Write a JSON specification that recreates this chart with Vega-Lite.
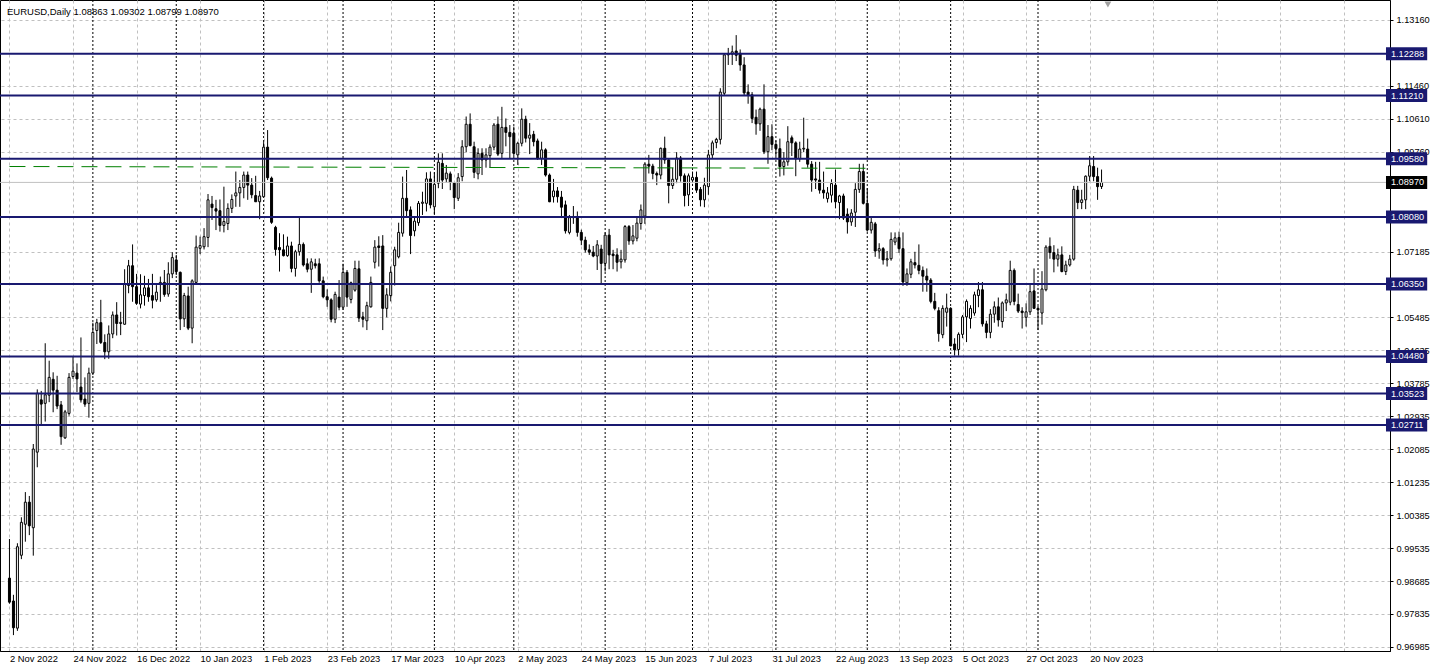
{
 "$schema": "https://vega.github.io/schema/vega-lite/v6.json",
 "width": 1390, "height": 651,
 "autosize": {"type": "none"},
 "padding": {"left": 0, "top": 0, "right": 48, "bottom": 20},
 "background": "white",
 "config": {"view": {"stroke": "black", "strokeWidth": 1}, "font": "Liberation Sans"},
 "title": {"text": "EURUSD,Daily  1.08863 1.09302 1.08799 1.08970", "anchor": "start", "frame": "group", "orient": "top", "offset": -17, "dx": 7, "fontSize": 9.5, "fontWeight": "normal", "font": "Liberation Sans", "color": "black", "baseline": "top"},
 "datasets": {
  "candles": [
{"d":"2022-11-02","o":0.9876,"h":0.9977,"l":0.9810,"c":0.9814},
{"d":"2022-11-03","o":0.9817,"h":0.9833,"l":0.9729,"c":0.9748},
{"d":"2022-11-04","o":0.9747,"h":0.9966,"l":0.9740,"c":0.9957},
{"d":"2022-11-07","o":0.9935,"h":1.0033,"l":0.9925,"c":1.0020},
{"d":"2022-11-08","o":1.0015,"h":1.0098,"l":0.9970,"c":1.0072},
{"d":"2022-11-09","o":1.0072,"h":1.0088,"l":0.9987,"c":1.0011},
{"d":"2022-11-10","o":1.0006,"h":1.0222,"l":0.9934,"c":1.0209},
{"d":"2022-11-11","o":1.0201,"h":1.0363,"l":1.0162,"c":1.0353},
{"d":"2022-11-14","o":1.0336,"h":1.0359,"l":1.0269,"c":1.0325},
{"d":"2022-11-15","o":1.0327,"h":1.0482,"l":1.0280,"c":1.0349},
{"d":"2022-11-16","o":1.0348,"h":1.0437,"l":1.0330,"c":1.0394},
{"d":"2022-11-17","o":1.0389,"h":1.0407,"l":1.0304,"c":1.0361},
{"d":"2022-11-18","o":1.0361,"h":1.0398,"l":1.0312,"c":1.0320},
{"d":"2022-11-21","o":1.0323,"h":1.0333,"l":1.0220,"c":1.0241},
{"d":"2022-11-22","o":1.0238,"h":1.0310,"l":1.0235,"c":1.0305},
{"d":"2022-11-23","o":1.0301,"h":1.0405,"l":1.0295,"c":1.0394},
{"d":"2022-11-24","o":1.0396,"h":1.0449,"l":1.0390,"c":1.0410},
{"d":"2022-11-25","o":1.0405,"h":1.0430,"l":1.0356,"c":1.0390},
{"d":"2022-11-28","o":1.0369,"h":1.0497,"l":1.0329,"c":1.0336},
{"d":"2022-11-29","o":1.0338,"h":1.0394,"l":1.0318,"c":1.0325},
{"d":"2022-11-30","o":1.0327,"h":1.0419,"l":1.0290,"c":1.0405},
{"d":"2022-12-01","o":1.0405,"h":1.0535,"l":1.0400,"c":1.0510},
{"d":"2022-12-02","o":1.0515,"h":1.0545,"l":1.0480,"c":1.0535},
{"d":"2022-12-05","o":1.0535,"h":1.0594,"l":1.0480,"c":1.0484},
{"d":"2022-12-06","o":1.0484,"h":1.0505,"l":1.0441,"c":1.0460},
{"d":"2022-12-07","o":1.0460,"h":1.0528,"l":1.0442,"c":1.0506},
{"d":"2022-12-08","o":1.0506,"h":1.0564,"l":1.0495,"c":1.0555},
{"d":"2022-12-09","o":1.0555,"h":1.0588,"l":1.0502,"c":1.0533},
{"d":"2022-12-12","o":1.0533,"h":1.0563,"l":1.0503,"c":1.0536},
{"d":"2022-12-13","o":1.0531,"h":1.0673,"l":1.0530,"c":1.0634},
{"d":"2022-12-14","o":1.0631,"h":1.0697,"l":1.0611,"c":1.0682},
{"d":"2022-12-15","o":1.0682,"h":1.0737,"l":1.0589,"c":1.0628},
{"d":"2022-12-16","o":1.0628,"h":1.0661,"l":1.0581,"c":1.0585},
{"d":"2022-12-19","o":1.0583,"h":1.0660,"l":1.0572,"c":1.0607},
{"d":"2022-12-20","o":1.0605,"h":1.0656,"l":1.0579,"c":1.0625},
{"d":"2022-12-21","o":1.0625,"h":1.0648,"l":1.0589,"c":1.0602},
{"d":"2022-12-22","o":1.0605,"h":1.0661,"l":1.0572,"c":1.0593},
{"d":"2022-12-23","o":1.0594,"h":1.0632,"l":1.0589,"c":1.0614},
{"d":"2022-12-27","o":1.0634,"h":1.0654,"l":1.0589,"c":1.0639},
{"d":"2022-12-28","o":1.0639,"h":1.0671,"l":1.0602,"c":1.0608},
{"d":"2022-12-29","o":1.0609,"h":1.0691,"l":1.0602,"c":1.0661},
{"d":"2022-12-30","o":1.0661,"h":1.0717,"l":1.0650,"c":1.0703},
{"d":"2023-01-02","o":1.0697,"h":1.0710,"l":1.0658,"c":1.0667},
{"d":"2023-01-03","o":1.0665,"h":1.0667,"l":1.0516,"c":1.0545},
{"d":"2023-01-04","o":1.0545,"h":1.0612,"l":1.0524,"c":1.0605},
{"d":"2023-01-05","o":1.0604,"h":1.0628,"l":1.0516,"c":1.0521},
{"d":"2023-01-06","o":1.0521,"h":1.0647,"l":1.0482,"c":1.0643},
{"d":"2023-01-09","o":1.0639,"h":1.0760,"l":1.0637,"c":1.0730},
{"d":"2023-01-10","o":1.0727,"h":1.0757,"l":1.0712,"c":1.0734},
{"d":"2023-01-11","o":1.0731,"h":1.0779,"l":1.0724,"c":1.0757},
{"d":"2023-01-12","o":1.0755,"h":1.0867,"l":1.0730,"c":1.0852},
{"d":"2023-01-13","o":1.0841,"h":1.0862,"l":1.0800,"c":1.0832},
{"d":"2023-01-16","o":1.0829,"h":1.0852,"l":1.0774,"c":1.0823},
{"d":"2023-01-17","o":1.0824,"h":1.0853,"l":1.0770,"c":1.0786},
{"d":"2023-01-18","o":1.0786,"h":1.0886,"l":1.0768,"c":1.0796},
{"d":"2023-01-19","o":1.0791,"h":1.0843,"l":1.0774,"c":1.0830},
{"d":"2023-01-20","o":1.0830,"h":1.0866,"l":1.0818,"c":1.0853},
{"d":"2023-01-23","o":1.0862,"h":1.0925,"l":1.0834,"c":1.0870},
{"d":"2023-01-24","o":1.0870,"h":1.0903,"l":1.0834,"c":1.0884},
{"d":"2023-01-25","o":1.0884,"h":1.0925,"l":1.0856,"c":1.0916},
{"d":"2023-01-26","o":1.0916,"h":1.0925,"l":1.0852,"c":1.0890},
{"d":"2023-01-27","o":1.0890,"h":1.0908,"l":1.0856,"c":1.0865},
{"d":"2023-01-30","o":1.0863,"h":1.0914,"l":1.0847,"c":1.0847},
{"d":"2023-01-31","o":1.0847,"h":1.0875,"l":1.0802,"c":1.0862},
{"d":"2023-02-01","o":1.0860,"h":1.1001,"l":1.0859,"c":1.0988},
{"d":"2023-02-02","o":1.0988,"h":1.1032,"l":1.0903,"c":1.0909},
{"d":"2023-02-03","o":1.0908,"h":1.0912,"l":1.0790,"c":1.0794},
{"d":"2023-02-06","o":1.0781,"h":1.0785,"l":1.0708,"c":1.0724},
{"d":"2023-02-07","o":1.0729,"h":1.0766,"l":1.0667,"c":1.0723},
{"d":"2023-02-08","o":1.0723,"h":1.0763,"l":1.0706,"c":1.0708},
{"d":"2023-02-09","o":1.0708,"h":1.0757,"l":1.0705,"c":1.0733},
{"d":"2023-02-10","o":1.0733,"h":1.0744,"l":1.0665,"c":1.0675},
{"d":"2023-02-13","o":1.0675,"h":1.0723,"l":1.0654,"c":1.0718},
{"d":"2023-02-14","o":1.0718,"h":1.0807,"l":1.0708,"c":1.0737},
{"d":"2023-02-15","o":1.0737,"h":1.0742,"l":1.0680,"c":1.0684},
{"d":"2023-02-16","o":1.0687,"h":1.0701,"l":1.0665,"c":1.0673},
{"d":"2023-02-17","o":1.0673,"h":1.0701,"l":1.0612,"c":1.0692},
{"d":"2023-02-20","o":1.0687,"h":1.0700,"l":1.0675,"c":1.0682},
{"d":"2023-02-21","o":1.0687,"h":1.0701,"l":1.0638,"c":1.0643},
{"d":"2023-02-22","o":1.0643,"h":1.0654,"l":1.0598,"c":1.0602},
{"d":"2023-02-23","o":1.0602,"h":1.0621,"l":1.0576,"c":1.0594},
{"d":"2023-02-24","o":1.0594,"h":1.0598,"l":1.0536,"c":1.0544},
{"d":"2023-02-27","o":1.0544,"h":1.0615,"l":1.0534,"c":1.0608},
{"d":"2023-02-28","o":1.0601,"h":1.0645,"l":1.0567,"c":1.0575},
{"d":"2023-03-01","o":1.0575,"h":1.0687,"l":1.0568,"c":1.0665},
{"d":"2023-03-02","o":1.0665,"h":1.0671,"l":1.0576,"c":1.0601},
{"d":"2023-03-03","o":1.0595,"h":1.0641,"l":1.0585,"c":1.0638},
{"d":"2023-03-06","o":1.0619,"h":1.0695,"l":1.0615,"c":1.0675},
{"d":"2023-03-07","o":1.0674,"h":1.0695,"l":1.0537,"c":1.0547},
{"d":"2023-03-08","o":1.0550,"h":1.0563,"l":1.0523,"c":1.0544},
{"d":"2023-03-09","o":1.0540,"h":1.0589,"l":1.0516,"c":1.0579},
{"d":"2023-03-10","o":1.0576,"h":1.0654,"l":1.0574,"c":1.0639},
{"d":"2023-03-13","o":1.0691,"h":1.0748,"l":1.0675,"c":1.0730},
{"d":"2023-03-14","o":1.0733,"h":1.0758,"l":1.0680,"c":1.0729},
{"d":"2023-03-15","o":1.0733,"h":1.0761,"l":1.0516,"c":1.0572},
{"d":"2023-03-16","o":1.0572,"h":1.0624,"l":1.0549,"c":1.0607},
{"d":"2023-03-17","o":1.0605,"h":1.0680,"l":1.0590,"c":1.0665},
{"d":"2023-03-20","o":1.0682,"h":1.0731,"l":1.0631,"c":1.0723},
{"d":"2023-03-21","o":1.0705,"h":1.0793,"l":1.0701,"c":1.0768},
{"d":"2023-03-22","o":1.0766,"h":1.0912,"l":1.0757,"c":1.0856},
{"d":"2023-03-23","o":1.0856,"h":1.0929,"l":1.0810,"c":1.0824},
{"d":"2023-03-24","o":1.0826,"h":1.0835,"l":1.0712,"c":1.0760},
{"d":"2023-03-27","o":1.0772,"h":1.0806,"l":1.0758,"c":1.0797},
{"d":"2023-03-28","o":1.0793,"h":1.0849,"l":1.0785,"c":1.0843},
{"d":"2023-03-29","o":1.0843,"h":1.0873,"l":1.0813,"c":1.0846},
{"d":"2023-03-30","o":1.0843,"h":1.0923,"l":1.0822,"c":1.0906},
{"d":"2023-03-31","o":1.0906,"h":1.0925,"l":1.0830,"c":1.0839},
{"d":"2023-04-03","o":1.0834,"h":1.0923,"l":1.0813,"c":1.0892},
{"d":"2023-04-04","o":1.0895,"h":1.0972,"l":1.0882,"c":1.0949},
{"d":"2023-04-05","o":1.0946,"h":1.0972,"l":1.0880,"c":1.0903},
{"d":"2023-04-06","o":1.0906,"h":1.0942,"l":1.0897,"c":1.0921},
{"d":"2023-04-07","o":1.0919,"h":1.0925,"l":1.0877,"c":1.0897},
{"d":"2023-04-10","o":1.0895,"h":1.0897,"l":1.0828,"c":1.0858},
{"d":"2023-04-11","o":1.0856,"h":1.0921,"l":1.0849,"c":1.0909},
{"d":"2023-04-12","o":1.0912,"h":1.1006,"l":1.0900,"c":1.0989},
{"d":"2023-04-13","o":1.0989,"h":1.1067,"l":1.0975,"c":1.1047},
{"d":"2023-04-14","o":1.1047,"h":1.1075,"l":1.0990,"c":1.0992},
{"d":"2023-04-17","o":1.0989,"h":1.1002,"l":1.0908,"c":1.0923},
{"d":"2023-04-18","o":1.0919,"h":1.0985,"l":1.0905,"c":1.0972},
{"d":"2023-04-19","o":1.0972,"h":1.0985,"l":1.0916,"c":1.0955},
{"d":"2023-04-20","o":1.0955,"h":1.0985,"l":1.0935,"c":1.0968},
{"d":"2023-04-21","o":1.0966,"h":1.0995,"l":1.0935,"c":1.0988},
{"d":"2023-04-24","o":1.0988,"h":1.1050,"l":1.0980,"c":1.1045},
{"d":"2023-04-25","o":1.1047,"h":1.1067,"l":1.0965,"c":1.0970},
{"d":"2023-04-26","o":1.0972,"h":1.1092,"l":1.0960,"c":1.1039},
{"d":"2023-04-27","o":1.1039,"h":1.1062,"l":1.0990,"c":1.1026},
{"d":"2023-04-28","o":1.1026,"h":1.1045,"l":1.0959,"c":1.1015},
{"d":"2023-05-01","o":1.1024,"h":1.1041,"l":1.0965,"c":1.0972},
{"d":"2023-05-02","o":1.0968,"h":1.1002,"l":1.0942,"c":1.0998},
{"d":"2023-05-03","o":1.0998,"h":1.1088,"l":1.0990,"c":1.1060},
{"d":"2023-05-04","o":1.1060,"h":1.1069,"l":1.1000,"c":1.1011},
{"d":"2023-05-05","o":1.1011,"h":1.1050,"l":1.0970,"c":1.1019},
{"d":"2023-05-08","o":1.1021,"h":1.1030,"l":1.0990,"c":1.1002},
{"d":"2023-05-09","o":1.1004,"h":1.1010,"l":1.0955,"c":1.0959},
{"d":"2023-05-10","o":1.0959,"h":1.1002,"l":1.0942,"c":1.0981},
{"d":"2023-05-11","o":1.0981,"h":1.0985,"l":1.0912,"c":1.0916},
{"d":"2023-05-12","o":1.0916,"h":1.0920,"l":1.0846,"c":1.0847},
{"d":"2023-05-15","o":1.0860,"h":1.0906,"l":1.0845,"c":1.0875},
{"d":"2023-05-16","o":1.0875,"h":1.0885,"l":1.0845,"c":1.0860},
{"d":"2023-05-17","o":1.0859,"h":1.0875,"l":1.0805,"c":1.0833},
{"d":"2023-05-18","o":1.0839,"h":1.0850,"l":1.0765,"c":1.0772},
{"d":"2023-05-19","o":1.0768,"h":1.0813,"l":1.0763,"c":1.0806},
{"d":"2023-05-22","o":1.0806,"h":1.0836,"l":1.0790,"c":1.0809},
{"d":"2023-05-23","o":1.0809,"h":1.0822,"l":1.0757,"c":1.0768},
{"d":"2023-05-24","o":1.0768,"h":1.0775,"l":1.0735,"c":1.0748},
{"d":"2023-05-25","o":1.0748,"h":1.0757,"l":1.0716,"c":1.0723},
{"d":"2023-05-26","o":1.0723,"h":1.0737,"l":1.0710,"c":1.0717},
{"d":"2023-05-29","o":1.0717,"h":1.0733,"l":1.0704,"c":1.0707},
{"d":"2023-05-30","o":1.0707,"h":1.0748,"l":1.0671,"c":1.0736},
{"d":"2023-05-31","o":1.0725,"h":1.0736,"l":1.0634,"c":1.0688},
{"d":"2023-06-01","o":1.0688,"h":1.0768,"l":1.0667,"c":1.0761},
{"d":"2023-06-02","o":1.0761,"h":1.0777,"l":1.0673,"c":1.0710},
{"d":"2023-06-05","o":1.0712,"h":1.0723,"l":1.0673,"c":1.0708},
{"d":"2023-06-06","o":1.0710,"h":1.0727,"l":1.0667,"c":1.0691},
{"d":"2023-06-07","o":1.0692,"h":1.0723,"l":1.0675,"c":1.0699},
{"d":"2023-06-08","o":1.0697,"h":1.0787,"l":1.0690,"c":1.0783},
{"d":"2023-06-09","o":1.0783,"h":1.0787,"l":1.0736,"c":1.0746},
{"d":"2023-06-12","o":1.0746,"h":1.0787,"l":1.0737,"c":1.0759},
{"d":"2023-06-13","o":1.0753,"h":1.0806,"l":1.0745,"c":1.0792},
{"d":"2023-06-14","o":1.0791,"h":1.0840,"l":1.0775,"c":1.0826},
{"d":"2023-06-15","o":1.0810,"h":1.0949,"l":1.0790,"c":1.0944},
{"d":"2023-06-16","o":1.0944,"h":1.0968,"l":1.0920,"c":1.0939},
{"d":"2023-06-19","o":1.0939,"h":1.0945,"l":1.0905,"c":1.0920},
{"d":"2023-06-20","o":1.0920,"h":1.0925,"l":1.0890,"c":1.0916},
{"d":"2023-06-21","o":1.0916,"h":1.0987,"l":1.0905,"c":1.0985},
{"d":"2023-06-22","o":1.0985,"h":1.1015,"l":1.0945,"c":1.0955},
{"d":"2023-06-23","o":1.0955,"h":1.0959,"l":1.0843,"c":1.0889},
{"d":"2023-06-26","o":1.0889,"h":1.0935,"l":1.0880,"c":1.0905},
{"d":"2023-06-27","o":1.0905,"h":1.0975,"l":1.0895,"c":1.0960},
{"d":"2023-06-28","o":1.0960,"h":1.0965,"l":1.0899,"c":1.0914},
{"d":"2023-06-29","o":1.0914,"h":1.0920,"l":1.0835,"c":1.0863},
{"d":"2023-06-30","o":1.0865,"h":1.0920,"l":1.0836,"c":1.0914},
{"d":"2023-07-03","o":1.0903,"h":1.0925,"l":1.0895,"c":1.0910},
{"d":"2023-07-04","o":1.0910,"h":1.0925,"l":1.0870,"c":1.0877},
{"d":"2023-07-05","o":1.0879,"h":1.0885,"l":1.0835,"c":1.0852},
{"d":"2023-07-06","o":1.0852,"h":1.0909,"l":1.0833,"c":1.0890},
{"d":"2023-07-07","o":1.0886,"h":1.0981,"l":1.0865,"c":1.0968},
{"d":"2023-07-10","o":1.0968,"h":1.1005,"l":1.0960,"c":1.0999},
{"d":"2023-07-11","o":1.1000,"h":1.1012,"l":1.0985,"c":1.1008},
{"d":"2023-07-12","o":1.1008,"h":1.1140,"l":1.0995,"c":1.1130},
{"d":"2023-07-13","o":1.1127,"h":1.1230,"l":1.1120,"c":1.1226},
{"d":"2023-07-14","o":1.1226,"h":1.1244,"l":1.1200,"c":1.1228},
{"d":"2023-07-17","o":1.1228,"h":1.1250,"l":1.1200,"c":1.1234},
{"d":"2023-07-18","o":1.1236,"h":1.1277,"l":1.1210,"c":1.1225},
{"d":"2023-07-19","o":1.1230,"h":1.1240,"l":1.1185,"c":1.1200},
{"d":"2023-07-20","o":1.1200,"h":1.1220,"l":1.1120,"c":1.1128},
{"d":"2023-07-21","o":1.1130,"h":1.1150,"l":1.1100,"c":1.1123},
{"d":"2023-07-24","o":1.1123,"h":1.1130,"l":1.1050,"c":1.1062},
{"d":"2023-07-25","o":1.1065,"h":1.1085,"l":1.1020,"c":1.1048},
{"d":"2023-07-26","o":1.1048,"h":1.1090,"l":1.1030,"c":1.1086},
{"d":"2023-07-27","o":1.1086,"h":1.1150,"l":1.0970,"c":1.0976},
{"d":"2023-07-28","o":1.0976,"h":1.1045,"l":1.0945,"c":1.1015},
{"d":"2023-07-31","o":1.1015,"h":1.1047,"l":1.0980,"c":1.0995},
{"d":"2023-08-01","o":1.0995,"h":1.1005,"l":1.0965,"c":1.0984},
{"d":"2023-08-02","o":1.0984,"h":1.1010,"l":1.0912,"c":1.0938},
{"d":"2023-08-03","o":1.0938,"h":1.0975,"l":1.0915,"c":1.0950},
{"d":"2023-08-04","o":1.0950,"h":1.1042,"l":1.0940,"c":1.1002},
{"d":"2023-08-07","o":1.1012,"h":1.1018,"l":1.0965,"c":1.0999},
{"d":"2023-08-08","o":1.0999,"h":1.1003,"l":1.0913,"c":1.0958},
{"d":"2023-08-09","o":1.0958,"h":1.1002,"l":1.0950,"c":1.0983},
{"d":"2023-08-10","o":1.0983,"h":1.1064,"l":1.0975,"c":1.0985},
{"d":"2023-08-11","o":1.0983,"h":1.1010,"l":1.0935,"c":1.0944},
{"d":"2023-08-14","o":1.0944,"h":1.0952,"l":1.0873,"c":1.0903},
{"d":"2023-08-15","o":1.0906,"h":1.0950,"l":1.0880,"c":1.0903},
{"d":"2023-08-16","o":1.0903,"h":1.0950,"l":1.0868,"c":1.0877},
{"d":"2023-08-17","o":1.0877,"h":1.0925,"l":1.0855,"c":1.0870},
{"d":"2023-08-18","o":1.0855,"h":1.0885,"l":1.0845,"c":1.0870},
{"d":"2023-08-21","o":1.0864,"h":1.0905,"l":1.0845,"c":1.0894},
{"d":"2023-08-22","o":1.0890,"h":1.0930,"l":1.0830,"c":1.0847},
{"d":"2023-08-23","o":1.0845,"h":1.0865,"l":1.0802,"c":1.0862},
{"d":"2023-08-24","o":1.0862,"h":1.0868,"l":1.0800,"c":1.0805},
{"d":"2023-08-25","o":1.0815,"h":1.0830,"l":1.0765,"c":1.0795},
{"d":"2023-08-28","o":1.0795,"h":1.0828,"l":1.0785,"c":1.0818},
{"d":"2023-08-29","o":1.0820,"h":1.0895,"l":1.0782,"c":1.0879},
{"d":"2023-08-30","o":1.0879,"h":1.0945,"l":1.0870,"c":1.0925},
{"d":"2023-08-31","o":1.0925,"h":1.0945,"l":1.0840,"c":1.0843},
{"d":"2023-09-01","o":1.0843,"h":1.0882,"l":1.0770,"c":1.0774},
{"d":"2023-09-04","o":1.0774,"h":1.0810,"l":1.0765,"c":1.0794},
{"d":"2023-09-05","o":1.0790,"h":1.0795,"l":1.0705,"c":1.0720},
{"d":"2023-09-06","o":1.0720,"h":1.0740,"l":1.0700,"c":1.0726},
{"d":"2023-09-07","o":1.0726,"h":1.0730,"l":1.0685,"c":1.0697},
{"d":"2023-09-08","o":1.0697,"h":1.0720,"l":1.0680,"c":1.0700},
{"d":"2023-09-11","o":1.0700,"h":1.0768,"l":1.0695,"c":1.0750},
{"d":"2023-09-12","o":1.0743,"h":1.0768,"l":1.0735,"c":1.0754},
{"d":"2023-09-13","o":1.0755,"h":1.0770,"l":1.0715,"c":1.0726},
{"d":"2023-09-14","o":1.0726,"h":1.0768,"l":1.0630,"c":1.0640},
{"d":"2023-09-15","o":1.0638,"h":1.0675,"l":1.0630,"c":1.0661},
{"d":"2023-09-18","o":1.0660,"h":1.0700,"l":1.0650,"c":1.0692},
{"d":"2023-09-19","o":1.0690,"h":1.0718,"l":1.0675,"c":1.0684},
{"d":"2023-09-20","o":1.0683,"h":1.0737,"l":1.0660,"c":1.0670},
{"d":"2023-09-21","o":1.0670,"h":1.0680,"l":1.0615,"c":1.0655},
{"d":"2023-09-22","o":1.0655,"h":1.0675,"l":1.0615,"c":1.0645},
{"d":"2023-09-25","o":1.0645,"h":1.0650,"l":1.0585,"c":1.0590},
{"d":"2023-09-26","o":1.0590,"h":1.0612,"l":1.0567,"c":1.0572},
{"d":"2023-09-27","o":1.0566,"h":1.0575,"l":1.0486,"c":1.0507},
{"d":"2023-09-28","o":1.0504,"h":1.0580,"l":1.0495,"c":1.0572},
{"d":"2023-09-29","o":1.0562,"h":1.0610,"l":1.0525,"c":1.0573},
{"d":"2023-10-02","o":1.0572,"h":1.0575,"l":1.0475,"c":1.0475},
{"d":"2023-10-03","o":1.0480,"h":1.0495,"l":1.0450,"c":1.0465},
{"d":"2023-10-04","o":1.0466,"h":1.0510,"l":1.0450,"c":1.0505},
{"d":"2023-10-05","o":1.0505,"h":1.0555,"l":1.0495,"c":1.0550},
{"d":"2023-10-06","o":1.0550,"h":1.0595,"l":1.0485,"c":1.0590},
{"d":"2023-10-09","o":1.0546,"h":1.0580,"l":1.0520,"c":1.0572},
{"d":"2023-10-10","o":1.0560,"h":1.0615,"l":1.0553,"c":1.0607},
{"d":"2023-10-11","o":1.0605,"h":1.0640,"l":1.0575,"c":1.0620},
{"d":"2023-10-12","o":1.0620,"h":1.0640,"l":1.0525,"c":1.0532},
{"d":"2023-10-13","o":1.0532,"h":1.0540,"l":1.0495,"c":1.0510},
{"d":"2023-10-16","o":1.0510,"h":1.0570,"l":1.0495,"c":1.0557},
{"d":"2023-10-17","o":1.0557,"h":1.0590,"l":1.0535,"c":1.0576},
{"d":"2023-10-18","o":1.0576,"h":1.0600,"l":1.0525,"c":1.0542},
{"d":"2023-10-19","o":1.0538,"h":1.0590,"l":1.0522,"c":1.0586},
{"d":"2023-10-20","o":1.0586,"h":1.0610,"l":1.0565,"c":1.0594},
{"d":"2023-10-23","o":1.0588,"h":1.0695,"l":1.0580,"c":1.0670},
{"d":"2023-10-24","o":1.0670,"h":1.0675,"l":1.0580,"c":1.0590},
{"d":"2023-10-25","o":1.0582,"h":1.0610,"l":1.0560,"c":1.0565},
{"d":"2023-10-26","o":1.0565,"h":1.0575,"l":1.0520,"c":1.0561},
{"d":"2023-10-27","o":1.0549,"h":1.0585,"l":1.0525,"c":1.0563},
{"d":"2023-10-30","o":1.0563,"h":1.0637,"l":1.0555,"c":1.0615},
{"d":"2023-10-31","o":1.0617,"h":1.0675,"l":1.0575,"c":1.0572},
{"d":"2023-11-01","o":1.0572,"h":1.0578,"l":1.0516,"c":1.0568},
{"d":"2023-11-02","o":1.0560,"h":1.0668,"l":1.0530,"c":1.0622},
{"d":"2023-11-03","o":1.0620,"h":1.0735,"l":1.0616,"c":1.0730},
{"d":"2023-11-06","o":1.0732,"h":1.0755,"l":1.0700,"c":1.0716},
{"d":"2023-11-07","o":1.0716,"h":1.0735,"l":1.0665,"c":1.0699},
{"d":"2023-11-08","o":1.0699,"h":1.0726,"l":1.0680,"c":1.0710},
{"d":"2023-11-09","o":1.0710,"h":1.0732,"l":1.0665,"c":1.0667},
{"d":"2023-11-10","o":1.0667,"h":1.0695,"l":1.0658,"c":1.0684},
{"d":"2023-11-13","o":1.0684,"h":1.0710,"l":1.0680,"c":1.0699},
{"d":"2023-11-14","o":1.0699,"h":1.0888,"l":1.0695,"c":1.0879},
{"d":"2023-11-15","o":1.0877,"h":1.0888,"l":1.0828,"c":1.0845},
{"d":"2023-11-16","o":1.0845,"h":1.0878,"l":1.0828,"c":1.0852},
{"d":"2023-11-17","o":1.0852,"h":1.0915,"l":1.0828,"c":1.0913},
{"d":"2023-11-20","o":1.0913,"h":1.0965,"l":1.0900,"c":1.0940},
{"d":"2023-11-21","o":1.0938,"h":1.0965,"l":1.0900,"c":1.0912},
{"d":"2023-11-22","o":1.0912,"h":1.0935,"l":1.0852,"c":1.0886},
{"d":"2023-11-23","o":1.08863,"h":1.09302,"l":1.08799,"c":1.08970}
  ],
  "levels": [{"v":1.12288},{"v":1.11210},{"v":1.09580},{"v":1.08080},{"v":1.06350},{"v":1.04480},{"v":1.03523},{"v":1.02711}],
  "trend": [{"bar":1,"price":1.0938},{"bar":218.5,"price":1.09334}],
  "shift": [{"bar":277.6,"price":1.1356}]
 },
 "layer": [
  {
   "data": {"name": "candles"},
   "transform": [{"window": [{"op": "row_number", "as": "n"}], "sort": [{"field": "d"}]}],
   "layer": [
    {
     "transform": [
      {"calculate": "slice(datum.d, 0, 7)", "as": "ym"},
      {"window": [{"op": "row_number", "as": "k"}], "groupby": ["ym"], "sort": [{"field": "n"}]},
      {"filter": "datum.k == 1 && datum.n > 1"}
     ],
     "mark": {"type": "rule", "color": "black", "strokeWidth": 1, "strokeDash": [2, 2]},
     "encoding": {
      "x": {"field": "n", "type": "quantitative", "scale": {"domain": [-0.125, 347.375], "nice": false, "zero": false},
        "axis": {"orient": "bottom", "title": null, "values": [1,9,17,25,33,41,49,57,65,73,81,89,97,105,113,121,129,137,145,153,161,169,177,185,193,201,209,217,225,233,241,249,257,265,273,281,289,297,305,313,321,329,337,345],
          "labelExpr": "(datum.value - 1) % 16 == 0 && datum.value <= 273 ? ['2 Nov 2022','24 Nov 2022','16 Dec 2022','10 Jan 2023','1 Feb 2023','23 Feb 2023','17 Mar 2023','10 Apr 2023','2 May 2023','24 May 2023','15 Jun 2023','7 Jul 2023','31 Jul 2023','22 Aug 2023','13 Sep 2023','5 Oct 2023','27 Oct 2023','20 Nov 2023'][(datum.value - 1) / 16] : ''",
          "labelAlign": "left", "labelBaseline": "top", "labelPadding": 3, "labelDx": -4, "labelFontSize": 9.4, "labelFont": "Liberation Sans", "labelColor": "black", "labelOverlap": false, "labelFlush": false,
          "grid": true, "gridColor": "#c0c0c0", "gridDash": [3, 3], "gridWidth": 1,
          "ticks": false, "domain": true, "domainColor": "black", "zindex": 0}}
     }
    },
    {
     "mark": {"type": "rule", "color": "black", "strokeWidth": 1},
     "encoding": {
      "x": {"field": "n", "type": "quantitative"},
      "y": {"field": "l", "type": "quantitative", "scale": {"domain": [0.9688, 1.13676], "nice": false, "zero": false},
        "axis": {"orient": "right", "title": null, "values": [0.96985,0.97835,0.98685,0.99535,1.00385,1.01235,1.02085,1.02935,1.03785,1.04635,1.05485,1.07185,1.0976,1.1061,1.1146,1.1316],
          "format": ".5f", "labelFontSize": 9.2, "labelFont": "Liberation Sans", "labelColor": "black", "labelPadding": 3, "labelOverlap": false, "labelFlush": false,
          "grid": true, "gridColor": "#c0c0c0", "gridDash": [3, 3], "gridWidth": 1,
          "ticks": true, "tickSize": 3, "tickColor": "black", "domain": true, "domainColor": "black", "zindex": 0}},
      "y2": {"field": "h"}
     }
    },
    {
     "mark": {"type": "bar", "width": 2, "stroke": "black", "strokeWidth": 1},
     "encoding": {
      "x": {"field": "n", "type": "quantitative"},
      "y": {"field": "o", "type": "quantitative"},
      "y2": {"field": "c"},
      "fill": {"condition": {"test": "datum.c < datum.o", "value": "black"}, "value": "white"}
     }
    },
    {
     "transform": [{"joinaggregate": [{"op": "max", "field": "n", "as": "mx"}]}, {"filter": "datum.n == datum.mx"}],
     "layer": [
      {"mark": {"type": "rule", "color": "#c0c0c0", "strokeWidth": 1},
       "encoding": {"y": {"field": "c", "type": "quantitative"}}},
      {"mark": {"type": "rect", "color": "black", "yOffset": -6.5, "y2Offset": 6.5},
       "encoding": {"x": {"datum": 347.625}, "x2": {"datum": 358.0}, "y": {"field": "c", "type": "quantitative"}, "y2": {"field": "c"}}},
      {"mark": {"type": "text", "color": "white", "align": "left", "baseline": "middle", "fontSize": 9.2, "font": "Liberation Sans"},
       "encoding": {"x": {"datum": 348.875}, "y": {"field": "c", "type": "quantitative"}, "text": {"field": "c", "format": ".5f"}}}
     ]
    }
   ]
  },
  {
   "data": {"name": "levels"},
   "layer": [
    {"mark": {"type": "rule", "color": "#191970", "strokeWidth": 2},
     "encoding": {"y": {"field": "v", "type": "quantitative"}}},
    {"mark": {"type": "rect", "color": "#191970", "yOffset": -6.5, "y2Offset": 6.5},
     "encoding": {"x": {"datum": 347.625}, "x2": {"datum": 358.0}, "y": {"field": "v", "type": "quantitative"}, "y2": {"field": "v"}}},
    {"mark": {"type": "text", "color": "white", "align": "left", "baseline": "middle", "fontSize": 9.2, "font": "Liberation Sans"},
     "encoding": {"x": {"datum": 348.875}, "y": {"field": "v", "type": "quantitative"}, "text": {"field": "v", "format": ".5f"}}}
   ]
  },
  {
   "data": {"name": "trend"},
   "mark": {"type": "line", "color": "#008000", "strokeWidth": 1, "strokeDash": [16, 8]},
   "encoding": {"x": {"field": "bar", "type": "quantitative"}, "y": {"field": "price", "type": "quantitative"}}
  },
  {
   "data": {"name": "shift"},
   "mark": {"type": "point", "shape": "triangle-down", "filled": true, "color": "#a0a0a0", "size": 45, "opacity": 1},
   "encoding": {"x": {"field": "bar", "type": "quantitative"}, "y": {"field": "price", "type": "quantitative"}}
  }
 ]
}
